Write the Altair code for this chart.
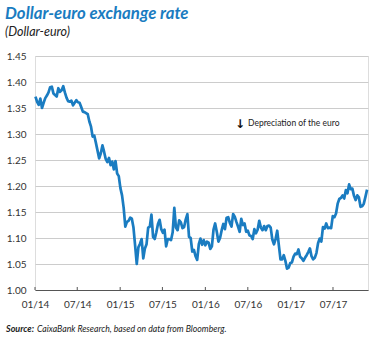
import altair as alt
import pandas as pd

# Weekly dollar-euro rate (Fridays, from 2014-01-03)
v2014 = [1.372, 1.362, 1.356, 1.368, 1.350, 1.360, 1.369, 1.374, 1.380, 1.390, 1.391, 1.378,
         1.375, 1.372, 1.388, 1.381, 1.384, 1.392, 1.380, 1.370, 1.363, 1.362, 1.364, 1.355,
         1.360, 1.365, 1.361, 1.360, 1.352, 1.343, 1.342, 1.340, 1.338, 1.324, 1.314, 1.295,
         1.297, 1.283, 1.268, 1.253, 1.263, 1.278, 1.266, 1.252, 1.246, 1.254, 1.240, 1.247,
         1.232, 1.248, 1.224, 1.219]
v2015 = [1.196, 1.182, 1.158, 1.122, 1.131, 1.133, 1.139, 1.137, 1.120, 1.086, 1.050, 1.082,
         1.089, 1.098, 1.061, 1.080, 1.088, 1.120, 1.122, 1.145, 1.102, 1.098, 1.111, 1.127,
         1.135, 1.117, 1.110, 1.116, 1.084, 1.098, 1.098, 1.096, 1.111, 1.158, 1.120, 1.115,
         1.134, 1.130, 1.119, 1.121, 1.136, 1.146, 1.102, 1.100, 1.074, 1.077, 1.065, 1.058,
         1.088, 1.099, 1.087, 1.096]
v2016 = [1.086, 1.093, 1.091, 1.079, 1.084, 1.116, 1.128, 1.112, 1.093, 1.100, 1.115, 1.127,
         1.117, 1.139, 1.140, 1.129, 1.122, 1.146, 1.141, 1.131, 1.122, 1.112, 1.137, 1.125,
         1.128, 1.112, 1.114, 1.105, 1.104, 1.098, 1.117, 1.109, 1.116, 1.133, 1.120, 1.115,
         1.123, 1.115, 1.123, 1.124, 1.120, 1.097, 1.088, 1.098, 1.114, 1.086, 1.059, 1.059,
         1.067, 1.056, 1.041, 1.043, 1.052]
v2017 = [1.053, 1.064, 1.070, 1.069, 1.078, 1.064, 1.061, 1.056, 1.062, 1.067, 1.073, 1.080,
         1.065, 1.059, 1.062, 1.071, 1.090, 1.099, 1.093, 1.121, 1.118, 1.128, 1.119, 1.120,
         1.119, 1.142, 1.140, 1.147, 1.166, 1.175, 1.177, 1.182, 1.176, 1.192, 1.186, 1.203,
         1.194, 1.195, 1.181, 1.173, 1.182, 1.178, 1.160, 1.161, 1.166, 1.179, 1.193]

values = v2014 + v2015 + v2016 + v2017
dates = pd.date_range("2014-01-03", periods=len(values), freq="7D")
df = pd.DataFrame({"date": dates, "rate": values})

tick_labels = ["2014-01-01", "2014-07-01", "2015-01-01", "2015-07-01",
               "2016-01-01", "2016-07-01", "2017-01-01", "2017-07-01"]
y_ticks = [1.00, 1.05, 1.10, 1.15, 1.20, 1.25, 1.30, 1.35, 1.40, 1.45]

ticks_df = pd.DataFrame({"date": pd.to_datetime(tick_labels)})

BLUE = "#1a7cc1"
FONT = "Lato"
W, H = 333, 234

x_scale = alt.Scale(domain=[alt.DateTime(year=2014, month=1, date=1),
                            alt.DateTime(year=2017, month=11, date=28)])
y_scale = alt.Scale(domain=[1.0, 1.45], nice=False, zero=False)

x_axis = alt.Axis(
    values=[alt.DateTime(year=int(d[:4]), month=int(d[5:7]), date=1) for d in tick_labels],
    format="%m/%y", title=None, grid=False, ticks=False, domainColor="#555555",
    domainWidth=1, labelPadding=9, labelFontSize=10, labelColor="#333333", labelFont=FONT,
    labelFlush=False, labelOverlap=False,
)
y_axis = alt.Axis(
    values=y_ticks, format=".2f", title=None, grid=True, gridColor="#cccccc", gridWidth=1,
    domain=False, ticks=False, labelPadding=9, labelFontSize=10, labelColor="#333333",
    labelFont=FONT, labelOverlap=False, labelFlush=False,
)

line = alt.Chart(df).mark_line(color=BLUE, strokeWidth=2.7, strokeJoin="round").encode(
    x=alt.X("date:T", scale=x_scale, axis=x_axis),
    y=alt.Y("rate:Q", scale=y_scale, axis=y_axis),
)

ticks = alt.Chart(ticks_df).mark_rule(color="#555555", strokeWidth=1).encode(
    x=alt.X("date:T", scale=x_scale),
    y=alt.value(H - 3),
    y2=alt.value(H),
)

def txt(text, x, y, size, weight="normal", style="normal", color="#222222", font=FONT):
    return alt.Chart(pd.DataFrame({"t": [text]})).mark_text(
        align="left", baseline="alphabetic", fontSize=size, fontWeight=weight,
        fontStyle=style, color=color, font=font,
    ).encode(text="t:N", x=alt.value(x), y=alt.value(y))

title = txt("Dollar-euro exchange rate", -30, -37, 16.8, "bold", "italic", BLUE)
subtitle = txt("(Dollar-euro)", -30, -20, 12.5, "normal", "italic", "#222222")
src_bold = txt("Source:", -29, 276, 9, "bold", "italic", "#222222")
src_rest = txt("CaixaBank Research, based on data from Bloomberg.", 2, 276, 8.7, "normal", "italic", "#222222")
arrow = txt("↓", 200, 72, 12, "bold", "normal", "#111111", "DejaVu Sans")
note = txt("Depreciation of the euro", 213, 70, 8.5, "normal", "normal", "#222222")

chart = alt.layer(line, ticks, title, subtitle, src_bold, src_rest, arrow, note).properties(
    width=W, height=H,
    autosize=alt.AutoSizeParams(type="none"),
    padding={"left": 35, "top": 56, "right": 10, "bottom": 48},
).configure_view(stroke=None).configure(background="white")

chart.save("out.html", embed_options={"renderer": "svg", "actions": False})
